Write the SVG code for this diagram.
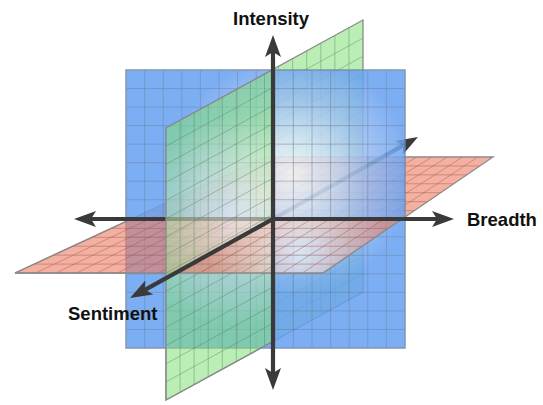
<svg xmlns="http://www.w3.org/2000/svg" xmlns:xlink="http://www.w3.org/1999/xlink" width="543" height="405" viewBox="0 0 543 405">
<style>
.axis{stroke:#3a3a3a;stroke-width:4.2;fill:none}
.bgrid{stroke:#55688a;stroke-opacity:0.45;stroke-width:1;fill:none}
.ggrid{stroke:#557a60;stroke-opacity:0.4;stroke-width:1;fill:none}
.pgrid{stroke:#9a5a50;stroke-opacity:0.45;stroke-width:1;fill:none}
.edge{fill:none;stroke:#8a8a8a;stroke-width:1.3}
.lbl{font-family:"Liberation Sans",Arial,sans-serif;font-weight:bold;font-size:18.5px;fill:#111}
</style>
<defs>
<marker id="ah" viewBox="0 0 22 16" refX="5" refY="8" markerWidth="22" markerHeight="16" markerUnits="userSpaceOnUse" orient="auto-start-reverse"><path d="M0,0 L22,8 L0,16 L5,8 z" fill="#3a3a3a"/></marker>
<radialGradient id="gB" gradientUnits="userSpaceOnUse" cx="292" cy="174" r="120"><stop offset="0" stop-color="#f6f9fe"/><stop offset="0.3" stop-color="#d2e2f8"/><stop offset="0.65" stop-color="#96bbf2"/><stop offset="1" stop-color="#66a0f2"/></radialGradient>
<radialGradient id="gG" gradientUnits="userSpaceOnUse" cx="232" cy="222" r="105"><stop offset="0" stop-color="#ffffff"/><stop offset="0.35" stop-color="#e0f0cc"/><stop offset="1" stop-color="#82e078"/></radialGradient>
<radialGradient id="gP" gradientUnits="userSpaceOnUse" cx="300" cy="255" r="90"><stop offset="0" stop-color="#ffffff"/><stop offset="0.35" stop-color="#f6cfc6"/><stop offset="1" stop-color="#ed7b61"/></radialGradient>
<clipPath id="cGB"><polygon points="273,69.4 363,20 363,292 273,341.4"/></clipPath>
<clipPath id="cGU"><polygon points="166,128 273,69.4 273,219 166,278.1"/></clipPath>
<clipPath id="cGL"><polygon points="166,278.1 273,219 273,341.4 166,400"/></clipPath>
<clipPath id="cPB"><polygon points="131.4,219 265,157 493,157 402,219"/></clipPath>
<clipPath id="cPL"><polygon points="131.4,219 273,219 175.2,273 15,273"/></clipPath>
<clipPath id="cPR"><polygon points="273,219 402,219 323,273 175.2,273"/></clipPath>
<g id="greenPlane">
<polygon points="166,128 363,20 363,292 166,400" fill="url(#gG)" fill-opacity="0.55"/>
<path class="ggrid" d="M180.07,120.29v272M194.14,112.57v272M208.21,104.86v272M222.29,97.14v272M236.36,89.43v272M250.43,81.71v272M264.5,74v272M278.57,66.29v272M292.64,58.57v272M306.71,50.86v272M320.79,43.14v272M334.86,35.43v272M348.93,27.71v272M166,146.13l197,-108M166,164.27l197,-108M166,182.4l197,-108M166,200.53l197,-108M166,218.67l197,-108M166,236.8l197,-108M166,254.93l197,-108M166,273.07l197,-108M166,291.2l197,-108M166,309.33l197,-108M166,327.47l197,-108M166,345.6l197,-108M166,363.73l197,-108M166,381.87l197,-108"/>
</g>
<g id="pinkPlane">
<polygon points="15,273 323,273 493,157 265,157" fill="url(#gP)" fill-opacity="0.6"/>
<path class="pgrid" d="M35.53,273L280.2,157M56.07,273L295.4,157M76.6,273L310.6,157M97.13,273L325.8,157M117.67,273L341,157M138.2,273L356.2,157M158.73,273L371.4,157M179.27,273L386.6,157M199.8,273L401.8,157M220.33,273L417,157M240.87,273L432.2,157M261.4,273L447.4,157M281.93,273L462.6,157M302.47,273L477.8,157M245.77,165.92H479.92M226.54,174.85H466.85M207.31,183.77H453.77M188.08,192.69H440.69M168.85,201.62H427.62M149.62,210.54H414.54M130.38,219.46H401.46M111.15,228.38H388.38M91.92,237.31H375.31M72.69,246.23H362.23M53.46,255.15H349.15M34.23,264.08H336.08"/>
</g>
</defs>
<rect width="543" height="405" fill="#ffffff"/>
<g id="back-planes">
<use xlink:href="#greenPlane" clip-path="url(#cGB)"/>
<use xlink:href="#pinkPlane" clip-path="url(#cPB)"/>
<polygon class="edge" points="166,128 363,20 363,292 166,400"/>
<polygon class="edge" points="15,273 323,273 493,157 265,157"/>
</g>
<g id="connectors-back">
<line class="axis" x1="273" y1="219" x2="403.2" y2="145.4" marker-end="url(#ah)"/>
</g>
<g id="blue-plane" opacity="0.85">
<rect x="126" y="70" width="279" height="278" fill="url(#gB)"/>
<path class="bgrid" d="M144.6,70v278M163.2,70v278M181.8,70v278M200.4,70v278M219,70v278M237.6,70v278M256.2,70v278M274.8,70v278M293.4,70v278M312,70v278M330.6,70v278M349.2,70v278M367.8,70v278M386.4,70v278M126,88.53h279M126,107.07h279M126,125.6h279M126,144.13h279M126,162.67h279M126,181.2h279M126,199.73h279M126,218.27h279M126,236.8h279M126,255.33h279M126,273.87h279M126,292.4h279M126,310.93h279M126,329.47h279"/>
<rect x="126" y="70" width="279" height="278" fill="none" stroke="#6f85a5" stroke-width="1.5"/>
</g>
<g id="front-planes">
<use xlink:href="#pinkPlane" clip-path="url(#cPL)"/>
<use xlink:href="#greenPlane" clip-path="url(#cGL)"/>
<use xlink:href="#pinkPlane" clip-path="url(#cPR)"/>
<polyline class="edge" points="131.4,219 15,273 323,273 402,219"/>
</g>
<g id="connectors-mid">
<line class="axis" x1="91" y1="219" x2="437" y2="219" marker-start="url(#ah)" marker-end="url(#ah)"/>
</g>
<g id="front-green">
<use xlink:href="#greenPlane" clip-path="url(#cGU)"/>
<polyline class="edge" points="273,69.4 166,128 166,400 273,341.4"/>
</g>
<g id="connectors">
<line class="axis" x1="273" y1="52" x2="273" y2="373" marker-start="url(#ah)" marker-end="url(#ah)"/>
<line class="axis" x1="273" y1="219" x2="144.9" y2="289.8" marker-end="url(#ah)"/>
</g>
<g id="labels">
<text class="lbl" x="233" y="25">Intensity</text>
<text class="lbl" x="467" y="226">Breadth</text>
<text class="lbl" x="68" y="320">Sentiment</text>
</g>
</svg>
